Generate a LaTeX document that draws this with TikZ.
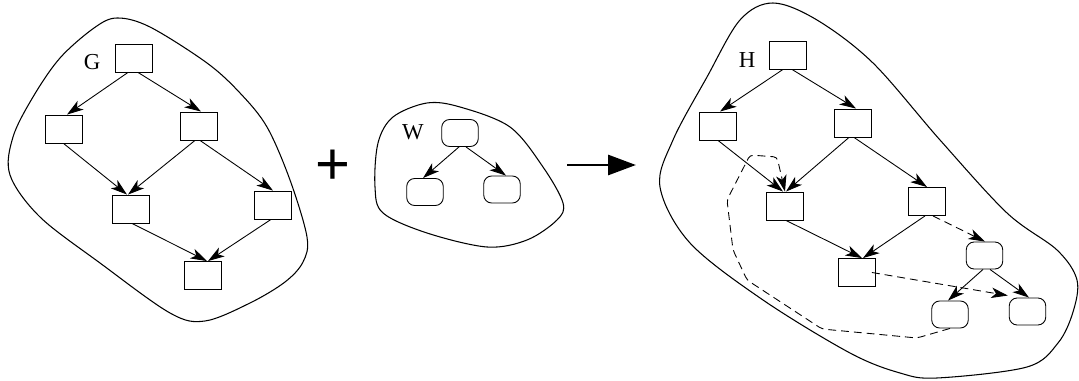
\documentclass[tikz,border=0pt]{standalone}
\usepackage{fontspec}
\setmainfont{Liberation Serif}
\newfontfamily\plusfont{Liberation Sans}
\usetikzlibrary{arrows.meta}
\begin{document}
\begin{tikzpicture}[x=0.02cm,y=-0.02cm,
  sq/.style={draw,line width=0.5pt,minimum width=0.74cm,minimum height=0.56cm,inner sep=0pt},
  rd/.style={sq,rounded corners=4.5pt,minimum width=0.73cm,minimum height=0.54cm},
  arr/.style={line width=0.5pt,-{Stealth[length=3.3mm,width=2.1mm,inset=0.9mm]}},
  darr/.style={arr,dash pattern=on 4.5pt off 2.8pt},
  blob/.style={line width=0.6pt},
  lbl/.style={font=\fontsize{13}{13}\selectfont}]
\useasboundingbox (0,0) rectangle (1079,381);

% ---------------- G ----------------
\draw[blob] plot[smooth cycle,tension=0.55] coordinates {
  (117,18) (150,27) (207,63) (240,93) (267,127) (290,180) (307,237) (303,262)
  (285,282) (250,303) (205,321) (170,313) (100,263) (40,217) (10,175) (13,137)
  (33,97) (60,58) (94,28)};
\node[lbl] (lG) at (92,62) {G};
\node[sq] (g1) at (133.5,58) {};
\node[sq] (g2) at (63.5,129) {};
\node[sq] (g3) at (198.5,126) {};
\node[sq] (g4) at (130.5,209) {};
\node[sq] (g5) at (272.5,205) {};
\node[sq] (g6) at (202.5,275.5) {};
\draw[arr] ([xshift=-0.11cm]g1.south) -- ([xshift=0.07cm]g2.north);
\draw[arr] ([xshift=0.09cm]g1.south) -- ([xshift=0.05cm]g3.north);
\draw[arr] (g2.south) -- ([xshift=-0.07cm]g4.north);
\draw[arr] ([xshift=-0.07cm]g3.south) -- ([xshift=-0.05cm]g4.north);
\draw[arr] ([xshift=0.03cm]g3.south) -- ([xshift=0.01cm]g5.north);
\draw[arr] ([xshift=0.03cm]g4.south) -- ([xshift=0.09cm]g6.north);
\draw[arr] ([xshift=-0.03cm]g5.south) -- ([xshift=0.11cm]g6.north);

% ---------------- plus ----------------
\node (plus) at (333,167) {\plusfont\fontsize{34}{34}\selectfont +};

% ---------------- W ----------------
\draw[blob] plot[smooth cycle,tension=0.55] coordinates {
  (427,103) (460,107) (510,127) (543,167) (563,203) (557,220) (527,240)
  (487,247) (427,233) (383,213) (375,187) (378,143) (393,117)};
\node[lbl] (lW) at (413,132) {W};
\node[rd] (w1) at (460,133) {};
\node[rd] (w2) at (425,192) {};
\node[rd] (w3) at (502,189.5) {};
\draw[arr] ([xshift=-0.02cm]w1.south) -- ([xshift=-0.04cm]w2.north);
\draw[arr] ([xshift=0.12cm]w1.south) -- ([xshift=0.08cm]w3.north);

% ---------------- big arrow ----------------
\coordinate (bs) at (567,165);
\coordinate (be) at (636,165);
\draw[line width=1.7pt,-{Triangle[length=0.56cm,width=0.4cm]}] (bs) -- (be);

% ---------------- H ----------------
\draw[blob] plot[smooth cycle,tension=0.55] coordinates {
  (773,3) (817,20) (873,63) (940,140) (1007,213) (1057,250) (1077,280)
  (1073,312) (1058,343) (1027,367) (937,378) (900,373) (850,353) (763,300)
  (690,243) (660,187) (673,140) (707,77) (740,20)};
\node[lbl] (lH) at (747,60) {H};
\node[sq] (h1) at (787.5,55) {};
\node[sq] (h2) at (717.5,126) {};
\node[sq] (h3) at (852.5,123) {};
\node[sq] (h4) at (784.5,206) {};
\node[sq] (h5) at (926.5,201.5) {};
\node[sq] (h6) at (857,272.5) {};
\node[rd] (r1) at (984.5,255.5) {};
\node[rd] (r2) at (950,314.5) {};
\node[rd] (r3) at (1027.5,311.5) {};
\draw[arr] ([xshift=-0.09cm]h1.south) -- ([xshift=0.05cm]h2.north);
\draw[arr] ([xshift=0.09cm]h1.south) -- ([xshift=0.07cm]h3.north);
\draw[arr] ([xshift=0.01cm]h2.south) -- ([xshift=-0.03cm]h4.north);
\draw[arr] ([xshift=-0.07cm]h3.south) -- ([xshift=0.03cm]h4.north);
\draw[arr] ([xshift=0.03cm]h3.south) -- ([xshift=0.01cm]h5.north);
\draw[arr] ([xshift=0.03cm]h4.south) -- ([xshift=0.10cm]h6.north);
\draw[arr] ([xshift=-0.03cm]h5.south) -- ([xshift=0.12cm]h6.north);
\draw[arr] ([xshift=-0.03cm]r1.south) -- ([xshift=-0.04cm]r2.north);
\draw[arr] ([xshift=0.11cm]r1.south) -- ([xshift=0.03cm]r3.north);
% dashed
\draw[darr] ([xshift=0.13cm]h5.south) -- ([xshift=0.01cm]r1.north);
\draw[darr] ([xshift=-0.08cm]h6.east) -- ([xshift=-0.02cm,yshift=0.04cm]r3.north west);
\coordinate (d1) at (917,338);
\coordinate (d2) at (822,329);
\coordinate (d3) at (747,280);
\coordinate (d4) at (733,250);
\coordinate (d5) at (727,200);
\coordinate (d6) at (750,155);
\coordinate (d7) at (777,157);
\draw[darr,rounded corners=2pt] (r2.south) -- (d1) -- (d2) -- (d3) -- (d4) -- (d5) -- (d6) -- (d7) -- ([xshift=0.01cm]h4.north);
\end{tikzpicture}
\end{document}
